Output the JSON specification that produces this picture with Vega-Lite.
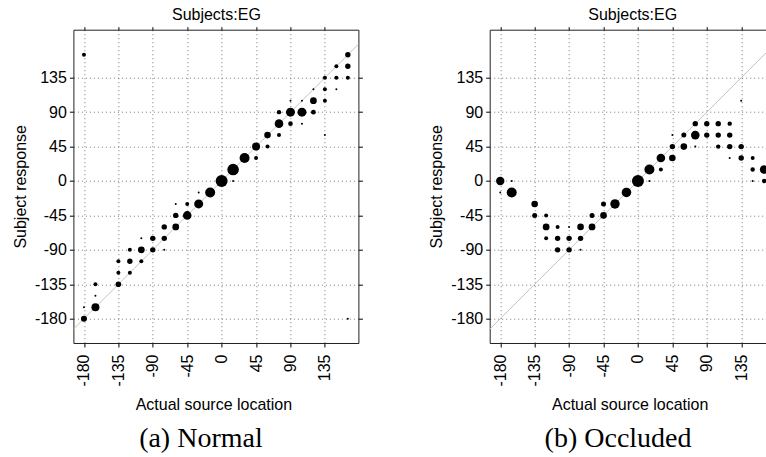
{
  "$schema": "https://vega.github.io/schema/vega-lite/v6.json",
  "padding": {"left": 12.4, "top": 5.7, "right": 0, "bottom": 0},
  "background": "white",
  "datasets": {
    "normal": [
      {"loc": -180, "resp": 165, "n": 2},
      {"loc": -180, "resp": -165, "n": 1},
      {"loc": -180, "resp": -180, "n": 3},
      {"loc": -165, "resp": -135, "n": 2},
      {"loc": -165, "resp": -150, "n": 1},
      {"loc": -165, "resp": -165, "n": 4},
      {"loc": -135, "resp": -105, "n": 2},
      {"loc": -135, "resp": -120, "n": 2},
      {"loc": -135, "resp": -135, "n": 2.8},
      {"loc": -120, "resp": -90, "n": 2},
      {"loc": -120, "resp": -105, "n": 2.7},
      {"loc": -120, "resp": -120, "n": 2},
      {"loc": -105, "resp": -75, "n": 1},
      {"loc": -105, "resp": -90, "n": 3.4},
      {"loc": -105, "resp": -105, "n": 2},
      {"loc": -90, "resp": -75, "n": 2.7},
      {"loc": -90, "resp": -90, "n": 2.7},
      {"loc": -75, "resp": -60, "n": 2.7},
      {"loc": -75, "resp": -75, "n": 2.7},
      {"loc": -75, "resp": -90, "n": 1},
      {"loc": -60, "resp": -30, "n": 1},
      {"loc": -60, "resp": -45, "n": 2.7},
      {"loc": -60, "resp": -60, "n": 3.4},
      {"loc": -45, "resp": -30, "n": 2},
      {"loc": -45, "resp": -45, "n": 4.3},
      {"loc": -30, "resp": -15, "n": 1},
      {"loc": -30, "resp": -30, "n": 4.5},
      {"loc": -15, "resp": -15, "n": 5},
      {"loc": 0, "resp": 0, "n": 6},
      {"loc": 15, "resp": 0, "n": 1},
      {"loc": 15, "resp": 15, "n": 5.8},
      {"loc": 30, "resp": 30, "n": 5},
      {"loc": 45, "resp": 30, "n": 2},
      {"loc": 45, "resp": 45, "n": 4},
      {"loc": 60, "resp": 45, "n": 2},
      {"loc": 60, "resp": 60, "n": 3.3},
      {"loc": 75, "resp": 60, "n": 2},
      {"loc": 75, "resp": 75, "n": 4.3},
      {"loc": 75, "resp": 90, "n": 2.2},
      {"loc": 90, "resp": 75, "n": 2.3},
      {"loc": 90, "resp": 90, "n": 4.5},
      {"loc": 90, "resp": 105, "n": 1},
      {"loc": 105, "resp": 75, "n": 1},
      {"loc": 105, "resp": 90, "n": 4.5},
      {"loc": 105, "resp": 105, "n": 1},
      {"loc": 120, "resp": 90, "n": 2.4},
      {"loc": 120, "resp": 105, "n": 3.4},
      {"loc": 120, "resp": 120, "n": 1},
      {"loc": 135, "resp": 60, "n": 1},
      {"loc": 135, "resp": 105, "n": 2},
      {"loc": 135, "resp": 120, "n": 2},
      {"loc": 135, "resp": 135, "n": 2},
      {"loc": 150, "resp": 120, "n": 1},
      {"loc": 150, "resp": 135, "n": 2},
      {"loc": 150, "resp": 150, "n": 2},
      {"loc": 165, "resp": 135, "n": 2},
      {"loc": 165, "resp": 150, "n": 2.7},
      {"loc": 165, "resp": 165, "n": 2.7},
      {"loc": 165, "resp": -180, "n": 1}
    ],
    "occluded": [
      {"loc": -180, "resp": 0, "n": 4.2},
      {"loc": -180, "resp": -15, "n": 1},
      {"loc": -165, "resp": 0, "n": 1},
      {"loc": -165, "resp": -15, "n": 5},
      {"loc": -135, "resp": -30, "n": 3.3},
      {"loc": -135, "resp": -45, "n": 2.5},
      {"loc": -120, "resp": -45, "n": 2},
      {"loc": -120, "resp": -60, "n": 3.4},
      {"loc": -120, "resp": -75, "n": 2},
      {"loc": -105, "resp": -60, "n": 2},
      {"loc": -105, "resp": -75, "n": 2.7},
      {"loc": -105, "resp": -90, "n": 2.7},
      {"loc": -90, "resp": -60, "n": 1},
      {"loc": -90, "resp": -75, "n": 2.7},
      {"loc": -90, "resp": -90, "n": 2.7},
      {"loc": -75, "resp": -60, "n": 3.3},
      {"loc": -75, "resp": -75, "n": 2.7},
      {"loc": -75, "resp": -90, "n": 1},
      {"loc": -60, "resp": -45, "n": 2.5},
      {"loc": -60, "resp": -60, "n": 3.4},
      {"loc": -45, "resp": -30, "n": 2.5},
      {"loc": -45, "resp": -45, "n": 3.3},
      {"loc": -30, "resp": -30, "n": 4.7},
      {"loc": -15, "resp": -15, "n": 4.8},
      {"loc": 0, "resp": 0, "n": 6},
      {"loc": 15, "resp": 0, "n": 1},
      {"loc": 15, "resp": 15, "n": 5},
      {"loc": 30, "resp": 15, "n": 2},
      {"loc": 30, "resp": 30, "n": 4.3},
      {"loc": 45, "resp": 30, "n": 3.3},
      {"loc": 45, "resp": 45, "n": 2.7},
      {"loc": 45, "resp": 60, "n": 1},
      {"loc": 60, "resp": 45, "n": 3.3},
      {"loc": 60, "resp": 60, "n": 2.5},
      {"loc": 75, "resp": 45, "n": 1},
      {"loc": 75, "resp": 60, "n": 4.3},
      {"loc": 75, "resp": 75, "n": 2.7},
      {"loc": 90, "resp": 60, "n": 2.7},
      {"loc": 90, "resp": 75, "n": 2.7},
      {"loc": 105, "resp": 45, "n": 2.2},
      {"loc": 105, "resp": 60, "n": 2.7},
      {"loc": 105, "resp": 75, "n": 2.7},
      {"loc": 120, "resp": 30, "n": 1},
      {"loc": 120, "resp": 45, "n": 2.7},
      {"loc": 120, "resp": 60, "n": 2.7},
      {"loc": 120, "resp": 75, "n": 2.2},
      {"loc": 135, "resp": 30, "n": 2.7},
      {"loc": 135, "resp": 45, "n": 2.7},
      {"loc": 135, "resp": 105, "n": 1},
      {"loc": 150, "resp": 0, "n": 1},
      {"loc": 150, "resp": 15, "n": 2.2},
      {"loc": 150, "resp": 30, "n": 2},
      {"loc": 165, "resp": 0, "n": 2.2},
      {"loc": 165, "resp": 15, "n": 4.3}
    ]
  },
  "spacing": 65.3,
  "hconcat": [
    {
      "width": 285,
      "height": 313.3,
      "title": {
        "text": "(a) Normal",
        "orient": "bottom",
        "anchor": "middle",
        "frame": "group",
        "dx": -15,
        "offset": 35,
        "baseline": "alphabetic",
        "font": "Liberation Serif",
        "fontSize": 28,
        "fontWeight": "normal",
        "color": "#000"
      },
      "layer": [
        {
          "data": {"values": [{"loc": -193.8, "resp": -193.8}, {"loc": 178.8, "resp": 178.8}]},
          "mark": {"type": "line", "color": "#c4c4c4", "strokeWidth": 1, "clip": true},
          "encoding": {
            "x": {
              "field": "loc", "type": "quantitative",
              "scale": {"domain": [-193.8, 178.8], "nice": false, "zero": false},
              "axis": {
                "orient": "top", "labels": false, "grid": false, "tickSize": 3,
                "values": [-180, -135, -90, -45, 0, 45, 90, 135],
                "title": "Subjects:EG", "titleX": 142.5, "titleY": -10.5, "titleBaseline": "alphabetic"
              }
            },
            "y": {
              "field": "resp", "type": "quantitative",
              "scale": {"domain": [-211.8, 197.8], "nice": false, "zero": false},
              "axis": {
                "orient": "right", "labels": false, "grid": false, "tickSize": 4,
                "values": [-180, -135, -90, -45, 0, 45, 90, 135], "title": null
              }
            }
          }
        },
        {
          "data": {"name": "normal"},
          "mark": {"type": "circle", "color": "#000", "opacity": 1, "strokeWidth": 0},
          "encoding": {
            "x": {
              "field": "loc", "type": "quantitative",
              "scale": {"domain": [-193.8, 178.8], "nice": false, "zero": false},
              "axis": {
                "orient": "bottom", "grid": true, "tickSize": 4,
                "values": [-180, -135, -90, -45, 0, 45, 90, 135],
                "labelExpr": "'' + datum.value",
                "labelAngle": 270, "labelAlign": "right", "labelBaseline": "middle", "labelPadding": 7,
                "title": "Actual source location", "titleX": 140, "titleY": 66.2, "titleBaseline": "alphabetic"
              }
            },
            "y": {
              "field": "resp", "type": "quantitative",
              "scale": {"domain": [-211.8, 197.8], "nice": false, "zero": false},
              "axis": {
                "orient": "left", "grid": true, "tickSize": 4, "labelPadding": 3,
                "values": [-180, -135, -90, -45, 0, 45, 90, 135],
                "labelExpr": "'' + datum.value",
                "title": "Subject response", "titleX": -47.7, "titleBaseline": "alphabetic"
              }
            },
            "size": {
              "field": "n", "type": "quantitative", "legend": null,
              "scale": {"type": "pow", "exponent": 2, "domain": [0, 6], "range": [0, 144]}
            }
          }
        }
      ],
      "resolve": {"axis": {"x": "independent", "y": "independent"}}
    },
    {
      "width": 278.7,
      "height": 313.3,
      "title": {
        "text": "(b) Occluded",
        "orient": "bottom",
        "anchor": "middle",
        "frame": "group",
        "dx": -11,
        "offset": 35,
        "baseline": "alphabetic",
        "font": "Liberation Serif",
        "fontSize": 28,
        "fontWeight": "normal",
        "color": "#000"
      },
      "layer": [
        {
          "data": {"values": [{"loc": -193.8, "resp": -193.8}, {"loc": 170.5, "resp": 170.5}]},
          "mark": {"type": "line", "color": "#c4c4c4", "strokeWidth": 1, "clip": true},
          "encoding": {
            "x": {
              "field": "loc", "type": "quantitative",
              "scale": {"domain": [-193.8, 170.56], "nice": false, "zero": false},
              "axis": {
                "orient": "top", "labels": false, "grid": false, "tickSize": 3,
                "values": [-180, -135, -90, -45, 0, 45, 90, 135],
                "title": "Subjects:EG", "titleX": 142.5, "titleY": -10.5, "titleBaseline": "alphabetic"
              }
            },
            "y": {
              "field": "resp", "type": "quantitative",
              "scale": {"domain": [-211.8, 197.8], "nice": false, "zero": false},
              "axis": null
            }
          }
        },
        {
          "data": {"name": "occluded"},
          "mark": {"type": "circle", "color": "#000", "opacity": 1, "strokeWidth": 0},
          "encoding": {
            "x": {
              "field": "loc", "type": "quantitative",
              "scale": {"domain": [-193.8, 170.56], "nice": false, "zero": false},
              "axis": {
                "orient": "bottom", "grid": true, "tickSize": 4,
                "values": [-180, -135, -90, -45, 0, 45, 90, 135],
                "labelExpr": "'' + datum.value",
                "labelAngle": 270, "labelAlign": "right", "labelBaseline": "middle", "labelPadding": 7,
                "title": "Actual source location", "titleX": 140, "titleY": 66.2, "titleBaseline": "alphabetic"
              }
            },
            "y": {
              "field": "resp", "type": "quantitative",
              "scale": {"domain": [-211.8, 197.8], "nice": false, "zero": false},
              "axis": {
                "orient": "left", "grid": true, "tickSize": 4, "labelPadding": 3,
                "values": [-180, -135, -90, -45, 0, 45, 90, 135],
                "labelExpr": "'' + datum.value",
                "title": "Subject response", "titleX": -47.7, "titleBaseline": "alphabetic"
              }
            },
            "size": {
              "field": "n", "type": "quantitative", "legend": null,
              "scale": {"type": "pow", "exponent": 2, "domain": [0, 6], "range": [0, 144]}
            }
          }
        }
      ],
      "resolve": {"axis": {"x": "independent", "y": "independent"}}
    }
  ],
  "config": {
    "view": {"stroke": null},
    "axis": {
      "labelFont": "Liberation Sans",
      "titleFont": "Liberation Sans",
      "labelFontSize": 16,
      "titleFontSize": 16,
      "titleFontWeight": "normal",
      "labelColor": "#000",
      "titleColor": "#000",
      "tickColor": "#000",
      "domainColor": "#222",
      "domain": true,
      "ticks": true,
      "labelOverlap": false,
      "labelFlush": false,
      "gridColor": "#777",
      "gridDash": [1, 3],
      "gridWidth": 1
    }
  }
}
